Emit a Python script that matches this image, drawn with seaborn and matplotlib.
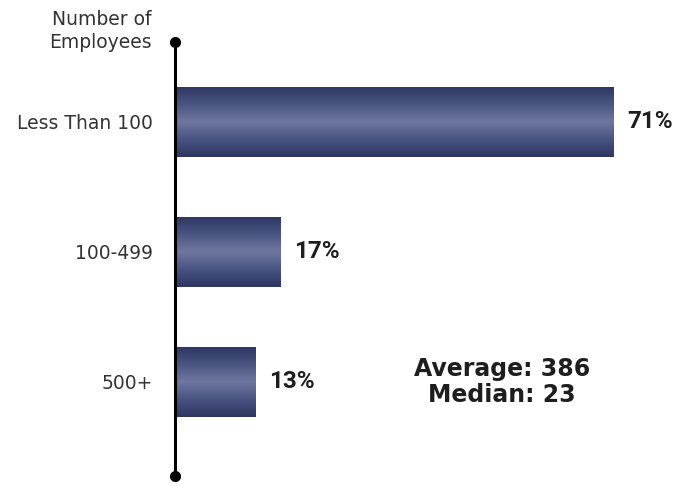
import numpy as np
import pandas as pd
import matplotlib.pyplot as plt
from matplotlib.colors import LinearSegmentedColormap
import seaborn as sns

categories = ['Less Than 100', '100-499', '500+']
shares = [71, 17, 13]
value_labels = ['71%', '17%', '13%']
axis_title = 'Number of\nEmployees'
summary = 'Average: 386\nMedian: 23'

df = pd.DataFrame({'size': categories, 'share': shares})

sns.set_style('white')
plt.rcParams['font.family'] = ['DejaVu Sans']
pct_font = ['Roboto', 'DejaVu Sans']

W, H = 676, 486
fig = plt.figure(figsize=(W / 100, H / 100), dpi=100)
# axes: left edge at x=175px, spanning y 42..476 px
ax = fig.add_axes([175 / W, 1 - 476 / H, (W - 175) / W, (476 - 42) / H])

sns.barplot(data=df, y='size', x='share', orient='h', color='#3f4872',
            width=0.54, ax=ax, zorder=2)

# vertical gradient in each bar
grad_cmap = LinearSegmentedColormap.from_list(
    'g', ['#2d3560', '#4a5482', '#6d789f', '#4a5482', '#2d3560'])
grad = np.linspace(0, 1, 256).reshape(-1, 1)
for p in ax.patches:
    x0, y0 = p.get_x(), p.get_y()
    w, h = p.get_width(), p.get_height()
    im = ax.imshow(grad, cmap=grad_cmap, aspect='auto',
                   extent=[x0, x0 + w, y0 + h, y0], zorder=3)
    im.set_clip_path(p)
    p.set_edgecolor('none')

ax.set_xlim(0, (W - 175) / 6.18)
ax.set_ylim(2.723, -0.615)

for i, (v, lab) in enumerate(zip(shares, value_labels)):
    ax.text(v + 2.2, i, lab, va='center', ha='left', fontsize=17.5,
            fontweight='bold', family=pct_font, color='#1e1e1e', zorder=4)

ax.text(52.9, 2.0, summary, ha='center', va='center', fontsize=17,
        fontweight='bold', color='#1e1e1e', linespacing=1.1)

for s in ['top', 'right', 'bottom']:
    ax.spines[s].set_visible(False)
ax.spines['left'].set_linewidth(2.2)
ax.spines['left'].set_color('black')
ax.spines['left'].set_zorder(5)
ax.plot([0, 0], [-0.615, 2.723], 'o', color='black', markersize=7,
        clip_on=False, zorder=6)

ax.set_xticks([])
ax.set_xlabel('')
ax.set_ylabel('')
ax.tick_params(axis='y', length=0, pad=16, labelsize=13.5, labelcolor='#333333')
for t in ax.get_yticklabels():
    t.set_family('DejaVu Sans')

fig.text(152 / W, 1 - 31 / H, axis_title, ha='right', va='center',
         fontsize=13.5, color='#333333', linespacing=1.3,
         family='DejaVu Sans')

fig.savefig('out.png', dpi=100)
